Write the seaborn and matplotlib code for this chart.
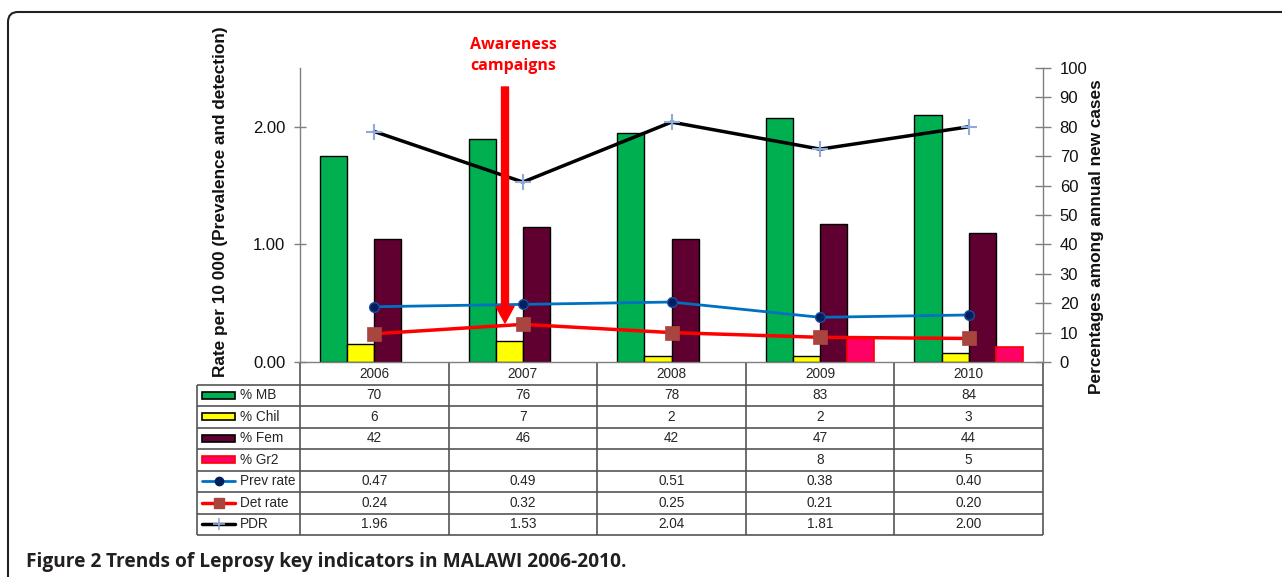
import numpy as np
import pandas as pd
import matplotlib.pyplot as plt
from matplotlib.patches import FancyBboxPatch, Rectangle
from matplotlib.lines import Line2D
from matplotlib.transforms import IdentityTransform
import seaborn as sns

# --- dados ---
years = ["2006", "2007", "2008", "2009", "2010"]
pct_mb = [70, 76, 78, 83, 84]
pct_chil = [6, 7, 2, 2, 3]
pct_fem = [42, 46, 42, 47, 44]
pct_gr2 = [np.nan, np.nan, np.nan, 8, 5]
prev_rate = [0.47, 0.49, 0.51, 0.38, 0.40]
det_rate = [0.24, 0.32, 0.25, 0.21, 0.20]
pdr = [1.96, 1.53, 2.04, 1.81, 2.00]

bar_names = ["% MB", "% Chil", "% Fem", "% Gr2"]
bar_colors = ["#00B050", "#FFFF00", "#5F0030", "#FF0066"]
bar_edges = ["black", "black", "black", "#FF0000"]

W, H = 1282, 577


def fx(px):
    return px / W


def fy(py):
    return 1 - py / H


sns.set_theme(style="white")
plt.rcParams["font.family"] = ["Liberation Sans", "DejaVu Sans"]

fig = plt.figure(figsize=(W / 100, H / 100), dpi=100)

# eixo principal: barras (percentagens, escala direita)
ax = fig.add_axes([fx(300), fy(362), fx(1043) - fx(300), fy(68) - fy(362)])
bars = pd.DataFrame({
    "year": years * 4,
    "series": [n for n in bar_names for _ in years],
    "value": pct_mb + pct_chil + pct_fem + pct_gr2,
}).dropna()
sns.barplot(data=bars, x="year", y="value", hue="series", order=years,
            hue_order=bar_names, palette=bar_colors, width=0.73, gap=0,
            saturation=1, edgecolor="black", linewidth=1, legend=False, ax=ax)
for cont, ec in zip(ax.containers, bar_edges):
    for p in cont:
        p.set_edgecolor(ec)
        p.set_linewidth(1.2 if ec != "black" else 1)

# eixo gemeo: linhas (taxas, escala esquerda)
ax2 = ax.twinx()
sns.lineplot(x=years, y=pdr, ax=ax2, color="black", linewidth=2.5,
             marker="+", markersize=11, markeredgewidth=1.5,
             markeredgecolor="#8EA9DB", sort=False, errorbar=None)
sns.lineplot(x=years, y=prev_rate, ax=ax2, color="#0070C0", linewidth=2,
             marker="o", markersize=7, markerfacecolor="#002060",
             markeredgecolor="#1F4E9A", markeredgewidth=1,
             sort=False, errorbar=None)
sns.lineplot(x=years, y=det_rate, ax=ax2, color="#FF0000", linewidth=2.5,
             marker="s", markersize=10, markerfacecolor="#A9453F",
             markeredgecolor="#A9453F", markeredgewidth=0.5,
             sort=False, errorbar=None)

ax.set_ylim(0, 100)
ax2.set_ylim(0, 2.5)
ax.set_xlim(-0.5, 4.5)
ax.set_xticks([])
ax.set_xlabel("")
ax.set_ylabel("")
ax2.set_ylabel("")

gray = "#7F7F7F"
ax.yaxis.tick_right()
ax.set_yticks(range(0, 101, 10))
ax.tick_params(axis="y", right=True, left=False, labelright=True,
               labelleft=False, direction="inout", length=12, width=1,
               color=gray, labelsize=12, pad=6, labelcolor="#111111")
ax2.yaxis.tick_left()
ax2.set_yticks([0, 1, 2])
ax2.set_yticklabels(["0.00", "1.00", "2.00"])
ax2.tick_params(axis="y", left=True, right=False, labelleft=True,
                labelright=False, direction="inout", length=9, width=1,
                color=gray, labelsize=12, pad=6, labelcolor="#111111")
for s in ["left", "right", "bottom"]:
    ax.spines[s].set_color(gray)
    ax.spines[s].set_linewidth(1)
ax.spines["top"].set_visible(False)
for s in ax2.spines.values():
    s.set_visible(False)

# seta "Awareness campaigns"
ax2.annotate("", xy=(fx(505), fy(323)), xytext=(fx(505), fy(87)),
             xycoords="figure fraction", textcoords="figure fraction",
             arrowprops=dict(width=5, headwidth=13, headlength=12,
                             color="#FF0000", shrink=0),
             annotation_clip=False, zorder=10)
fig.text(fx(513), fy(55.5), "Awareness\ncampaigns", color="#FF0000",
         fontsize=11.5, fontweight="bold", ha="center", va="center",
         linespacing=1.4, family=["Open Sans", "DejaVu Sans"])

# rotulos dos eixos
fig.text(fx(220), fy(202), "Rate per 10 000 (Prevalence and detection)",
         rotation=90, ha="center", va="center", fontsize=12.4,
         fontweight="bold", color="#111111")
fig.text(fx(1097), fy(237), "Percentages among annual new cases",
         rotation=90, ha="center", va="center", fontsize=12.4,
         fontweight="bold", color="#111111")

# tabela de dados
tb = fig.add_axes([fx(197), fy(535), fx(1043) - fx(197), fy(363) - fy(535)])
xl = -0.5 - 103 / 148.6
tb.set_xlim(xl, 4.5)
tb.set_ylim(8, 0)
tb.axis("off")
line_c = "#555555"
tb.hlines(range(1, 9), xl, 4.5, color=line_c, lw=1.2, clip_on=False)
tb.vlines(np.arange(-0.5, 5), 0, 8, color=line_c, lw=1.2, clip_on=False)
tb.vlines([xl], 1, 8, color=line_c, lw=1.2, clip_on=False)

fs_tab = 9.8
for i, y in enumerate(years):
    tb.text(i, 0.5, y, ha="center", va="center", fontsize=fs_tab)


def fmt_pct(v):
    return "" if np.isnan(v) else f"{v:.0f}"


rows = [
    ("% MB", [fmt_pct(v) for v in pct_mb]),
    ("% Chil", [fmt_pct(v) for v in pct_chil]),
    ("% Fem", [fmt_pct(v) for v in pct_fem]),
    ("% Gr2", [fmt_pct(v) for v in pct_gr2]),
    ("Prev rate", [f"{v:.2f}" for v in prev_rate]),
    ("Det rate", [f"{v:.2f}" for v in det_rate]),
    ("PDR", [f"{v:.2f}" for v in pdr]),
]
k0 = (202 - 300) / 148.6 - 0.5
k1 = (235 - 300) / 148.6 - 0.5
kt = (240 - 300) / 148.6 - 0.5
for r, (name, vals) in enumerate(rows, start=1):
    yc = r + 0.5
    for i, v in enumerate(vals):
        tb.text(i, yc, v, ha="center", va="center", fontsize=fs_tab)
    tb.text(kt, yc, name, ha="left", va="center", fontsize=fs_tab)
    if r <= 4:
        tb.add_patch(Rectangle((k0, yc - 0.16), k1 - k0, 0.32,
                               facecolor=bar_colors[r - 1],
                               edgecolor=bar_edges[r - 1], lw=1.2))

key_styles = [
    dict(color="#0070C0", lw=2, marker="o", ms=6, mfc="#002060", mec="#002060"),
    dict(color="#FF0000", lw=2.5, marker="s", ms=7, mfc="#A9453F", mec="#A9453F"),
    dict(color="black", lw=2.5, marker="+", ms=8, mec="#8EA9DB", mew=1.2),
]
for j, st in enumerate(key_styles):
    yc = 5 + j + 0.5
    tb.add_line(Line2D([k0, k1], [yc, yc], color=st["color"], lw=st["lw"]))
    tb.add_line(Line2D([(k0 + k1) / 2], [yc], linestyle="none",
                       marker=st["marker"], ms=st["ms"], mfc=st.get("mfc"),
                       mec=st["mec"], mew=st.get("mew", 1)))

# moldura e legenda da figura
frame = FancyBboxPatch((8, -40), 1400, (H - 12) + 40,
                       boxstyle="round,pad=0,rounding_size=10",
                       transform=IdentityTransform(), fill=False,
                       edgecolor="#222222", lw=1.5)
fig.add_artist(frame)

cap_font = ["Open Sans", "DejaVu Sans"]
t1 = fig.text(fx(26), fy(567), "Figure 2", fontsize=13.8, fontweight="bold",
              family=cap_font, color="#231F20", va="baseline", ha="left")
tb.annotate(" Trends of Leprosy key indicators in MALAWI 2006-2010.",
            xy=(1, 0), xycoords=t1, va="bottom", ha="left", fontsize=13.8,
            fontweight="bold", family=cap_font, color="#231F20",
            annotation_clip=False)

fig.savefig("out.png", dpi=100)
